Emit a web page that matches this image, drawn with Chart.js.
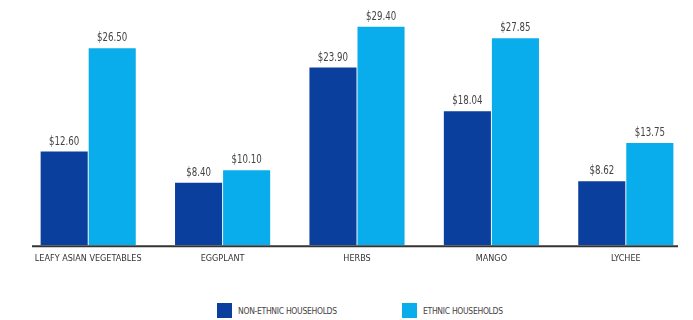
<!DOCTYPE html>
<html>
<head>
<meta charset="utf-8">
<script src="https://cdn.jsdelivr.net/npm/chart.js@4/dist/chart.umd.min.js"></script>
<style>
  html, body { margin: 0; padding: 0; background: #fff; }
  #wrap { position: relative; width: 693px; height: 320px; }
  #chartBox { position: absolute; left: 0; top: 0; width: 693px; height: 264px; }
  .legend-item { position: absolute; top: 303px; display: flex; align-items: center;
    font-family: "DejaVu Sans Condensed", "Liberation Sans Narrow", sans-serif;
    font-size: 8.5px; color: #444; letter-spacing: -0.3px; }
  .legend-item span.box { width: 15px; height: 15px; margin-right: 6px; display: inline-block; }
</style>
</head>
<body>
<div id="wrap">
  <div id="chartBox"><canvas id="myChart"></canvas></div>
  <div id="legend"></div>
</div>
<script>
// chart data
var categories = ["LEAFY ASIAN VEGETABLES", "EGGPLANT", "HERBS", "MANGO", "LYCHEE"];
var seriesNames = ["NON-ETHNIC HOUSEHOLDS", "ETHNIC HOUSEHOLDS"];
var nonEthnic = [12.60, 8.40, 23.90, 18.04, 8.62];
var ethnic = [26.50, 10.10, 29.40, 27.85, 13.75];
var colors = ["#0B3F9E", "#0AADEB"];

var font = '"Liberation Sans Narrow", "DejaVu Sans Condensed", sans-serif';

// value labels on top of the bars + baseline
var valueLabels = {
    id: 'valueLabels',
    afterDatasetsDraw: function (chart) {
        var ctx = chart.ctx;
        ctx.save();
        ctx.font = '12px ' + font;
        ctx.fillStyle = '#444';
        ctx.textAlign = 'center';
        ctx.textBaseline = 'bottom';
        var sx = 0.8;
        chart.data.datasets.forEach(function (ds, i) {
            chart.getDatasetMeta(i).data.forEach(function (bar, j) {
                ctx.save();
                ctx.translate(bar.x, bar.y - 4);
                ctx.scale(sx, 1);
                ctx.fillText('$' + ds.data[j].toFixed(2), 0, 0);
                ctx.restore();
            });
        });
        var area = chart.chartArea;
        ctx.strokeStyle = '#333';
        ctx.lineWidth = 2;
        ctx.beginPath();
        ctx.moveTo(area.left + 11, area.bottom + 1);
        ctx.lineTo(area.right - 15, area.bottom + 1);
        ctx.stroke();
        ctx.restore();
    }
};

var ctx = document.getElementById('myChart').getContext('2d');
var myChart = new Chart(ctx, {
    type: 'bar',
    data: {
        labels: categories,
        datasets: [{
            label: seriesNames[0],
            data: nonEthnic,
            backgroundColor: colors[0]
        }, {
            label: seriesNames[1],
            data: ethnic,
            backgroundColor: colors[1]
        }]
    },
    options: {
        responsive: true,
        maintainAspectRatio: false,
        animation: false,
        layout: { padding: { left: 21, right: 0, top: 0, bottom: 0 } },
        datasets: { bar: { barPercentage: 0.98, categoryPercentage: 0.715 } },
        plugins: { legend: { display: false }, tooltip: { enabled: false } },
        scales: {
            x: {
                grid: { display: false },
                border: { display: false },
                ticks: { color: '#333', font: { family: font, size: 9 }, padding: 0, maxRotation: 0 }
            },
            y: {
                display: false,
                min: 0,
                max: 33
            }
        }
    },
    plugins: [valueLabels]
});

// legend
var legend = document.getElementById('legend');
var legendLeft = [217, 402];
seriesNames.forEach(function (name, i) {
    var item = document.createElement('div');
    item.className = 'legend-item';
    item.style.left = legendLeft[i] + 'px';
    item.innerHTML = '<span class="box" style="background:' + colors[i] + '"></span>' + name;
    legend.appendChild(item);
});
</script>
</body>
</html>
